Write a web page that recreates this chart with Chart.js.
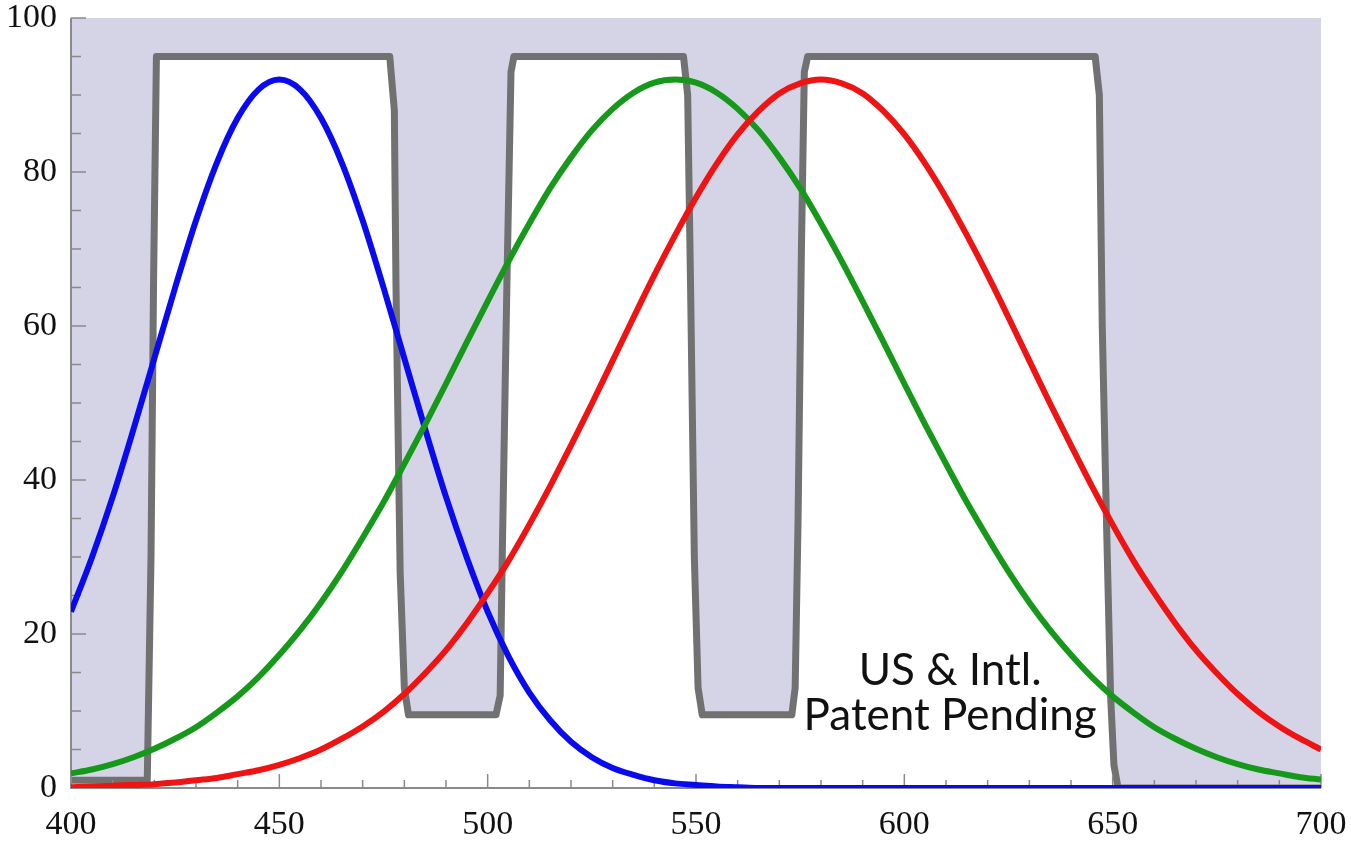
<!DOCTYPE html>
<html>
<head>
<meta charset="utf-8">
<script src="https://cdn.jsdelivr.net/npm/chart.js@4"></script>
<style>
  html, body { margin: 0; padding: 0; background: #fff; }
  canvas { display: block; }
</style>
</head>
<body>
<canvas id="myChart" width="1351" height="845"></canvas>
<script>
// wavelength samples (nm) for the three response curves
const wavelengths = [400, 405, 410, 415, 420, 425, 430, 435, 440, 445,
  450, 455, 460, 465, 470, 475, 480, 485, 490, 495,
  500, 505, 510, 515, 520, 525, 530, 535, 540, 545,
  550, 555, 560, 565, 570, 575, 580, 585, 590, 595,
  600, 605, 610, 615, 620, 625, 630, 635, 640, 645,
  650, 655, 660, 665, 670, 675, 680, 685, 690, 695, 700];

const blueValues = [22.9, 29.9, 37.8, 46.6, 55.8, 65.0, 73.7, 81.2, 87.0, 90.7,
  92.0, 90.7, 87.0, 81.2, 73.7, 65.0, 55.8, 46.6, 37.8, 29.9,
  22.9, 17.1, 12.4, 8.8, 6.0, 4.0, 2.6, 1.7, 1.0, 0.6,
  0.4, 0.2, 0.1, 0, 0, 0, 0, 0, 0, 0,
  0, 0, 0, 0, 0, 0, 0, 0, 0, 0,
  0, 0, 0, 0, 0, 0, 0, 0, 0, 0, 0];

const greenValues = [1.9, 2.4, 3.1, 4.0, 5.1, 6.4, 7.9, 9.8, 11.9, 14.4,
  17.3, 20.5, 24.1, 28.1, 32.5, 37.1, 42.1, 47.2, 52.5, 57.9,
  63.2, 68.4, 73.3, 77.9, 81.9, 85.4, 88.2, 90.3, 91.6, 92.0,
  91.6, 90.3, 88.2, 85.4, 81.9, 77.9, 73.3, 68.4, 63.2, 57.9,
  52.5, 47.2, 42.1, 37.1, 32.5, 28.1, 24.1, 20.5, 17.3, 14.4,
  11.9, 9.8, 7.9, 6.4, 5.1, 4.0, 3.1, 2.4, 1.9, 1.4, 1.1];

const redValues = [0.1, 0.2, 0.3, 0.4, 0.5, 0.7, 1.0, 1.3, 1.8, 2.3,
  3.0, 3.9, 5.0, 6.4, 8.0, 9.9, 12.2, 14.9, 17.9, 21.4,
  25.3, 29.5, 34.2, 39.2, 44.5, 49.9, 55.5, 61.1, 66.6, 71.8,
  76.7, 81.1, 84.9, 87.9, 90.2, 91.5, 92.0, 91.5, 90.2, 87.9,
  84.9, 81.1, 76.7, 71.8, 66.6, 61.1, 55.5, 49.9, 44.5, 39.2,
  34.2, 29.5, 25.3, 21.4, 17.9, 14.9, 12.2, 9.9, 8.0, 6.4, 5.0];

// triple band-pass filter transmission (gray trace)
const filterNm = [400, 418.3, 419.2, 419.8, 420.5,
  476.5, 477.6, 478, 479, 480, 481,
  502, 503, 503.5, 504.6, 505.6, 506.3,
  547, 548, 548.7, 549.6, 550.5, 551.5,
  573, 573.8, 574.5, 575.3, 576, 576.8,
  645.8, 646.8, 647.5, 648.5, 649.5, 650.3, 651.3, 700];
const filterPct = [1, 1, 30, 65, 95,
  95, 88, 65, 28, 13, 9.5,
  9.5, 12, 30, 65, 93, 95,
  95, 90, 65, 30, 13, 9.5,
  9.5, 13, 35, 70, 93, 95,
  95, 90, 60, 35, 12, 3, 0, 0];

const xTicks = [400, 450, 500, 550, 600, 650, 700];
const yTicks = [0, 20, 40, 60, 80, 100];
const noteLines = ['US & Intl.', 'Patent Pending'];

function pairs(xs, ys) {
  return xs.map((x, i) => ({ x: x, y: ys[i] }));
}

// labels must not push the plot area around
function noPad(s) {
  s.paddingLeft = 0; s.paddingRight = 0;
  s.paddingTop = 0; s.paddingBottom = 0;
}

const decorPlugin = {
  id: 'decor',
  beforeDraw(chart) {
    const a = chart.chartArea;
    const ctx = chart.ctx;
    ctx.save();
    ctx.fillStyle = '#d4d4e6';
    ctx.fillRect(a.left, a.top, a.right - a.left, a.bottom - a.top);
    ctx.restore();
  },
  afterDatasetDraw(chart, args) {
    if (args.index !== 0) return;
    const a = chart.chartArea;
    const xs = chart.scales.x, ys = chart.scales.y;
    const ctx = chart.ctx;
    ctx.save();
    ctx.strokeStyle = '#8a8a8a';
    ctx.lineWidth = 2;
    ctx.beginPath();
    ctx.moveTo(a.left, a.top);
    ctx.lineTo(a.left, a.bottom);
    ctx.lineTo(a.right, a.bottom);
    ctx.stroke();
    ctx.lineWidth = 1.5;
    ctx.beginPath();
    for (let v = 0; v <= 100; v += 5) {
      const py = ys.getPixelForValue(v);
      ctx.moveTo(a.left, py);
      ctx.lineTo(a.left + (v % 20 === 0 ? 15 : 10), py);
    }
    for (let v = 400; v <= 700; v += 10) {
      const px = xs.getPixelForValue(v);
      ctx.moveTo(px, a.bottom);
      ctx.lineTo(px, a.bottom - (v % 50 === 0 ? 14 : 8));
    }
    ctx.stroke();
    ctx.restore();
  },
  afterDraw(chart) {
    const xs = chart.scales.x, ys = chart.scales.y;
    const ctx = chart.ctx;
    ctx.save();
    ctx.fillStyle = '#111';
    ctx.font = '44px Lato';
    ctx.textAlign = 'center';
    ctx.textBaseline = 'alphabetic';
    const cx = xs.getPixelForValue(611);
    ctx.fillText(noteLines[0], cx, ys.getPixelForValue(13.4));
    ctx.fillText(noteLines[1], cx, ys.getPixelForValue(7.5));
    ctx.restore();
  }
};

function initializeFilterChart() {
  const ctx = document.getElementById('myChart').getContext('2d');
  const tickFont = { family: 'Liberation Serif', size: 34, lineHeight: 1 };
  new Chart(ctx, {
    type: 'line',
    data: {
      datasets: [{
        label: 'Filter',
        data: pairs(filterNm, filterPct),
        borderColor: '#717171',
        borderWidth: 7,
        borderJoinStyle: 'round',
        backgroundColor: '#ffffff',
        fill: 'origin',
        tension: 0,
        pointRadius: 0,
        order: 4
      }, {
        label: 'Blue',
        data: pairs(wavelengths, blueValues),
        borderColor: '#0a0aee',
        borderWidth: 6,
        fill: false,
        cubicInterpolationMode: 'monotone',
        pointRadius: 0,
        order: 3
      }, {
        label: 'Green',
        data: pairs(wavelengths, greenValues),
        borderColor: '#16991a',
        borderWidth: 6,
        fill: false,
        cubicInterpolationMode: 'monotone',
        pointRadius: 0,
        order: 2
      }, {
        label: 'Red',
        data: pairs(wavelengths, redValues),
        borderColor: '#ee1414',
        borderWidth: 6,
        fill: false,
        cubicInterpolationMode: 'monotone',
        pointRadius: 0,
        order: 1
      }]
    },
    options: {
      responsive: false,
      animation: false,
      devicePixelRatio: 1,
      layout: { padding: { top: 18, right: 30, left: 0, bottom: 0 } },
      plugins: { legend: { display: false }, tooltip: { enabled: false } },
      scales: {
        x: {
          type: 'linear',
          min: 400,
          max: 700,
          afterFit: (s) => { s.height = 57; noPad(s); },
          afterBuildTicks: (s) => { s.ticks = xTicks.map(v => ({ value: v })); },
          grid: { display: false, drawTicks: false },
          border: { display: false },
          ticks: { font: tickFont, color: '#111', padding: 20, maxRotation: 0 }
        },
        y: {
          min: 0,
          max: 100,
          afterFit: (s) => { s.width = 71; noPad(s); },
          afterBuildTicks: (s) => { s.ticks = yTicks.map(v => ({ value: v })); },
          grid: { display: false, drawTicks: false },
          border: { display: false },
          ticks: { font: tickFont, color: '#111', padding: 14 }
        }
      }
    },
    plugins: [decorPlugin]
  });
}

document.addEventListener('DOMContentLoaded', function () {
  initializeFilterChart();
});
</script>
</body>
</html>
